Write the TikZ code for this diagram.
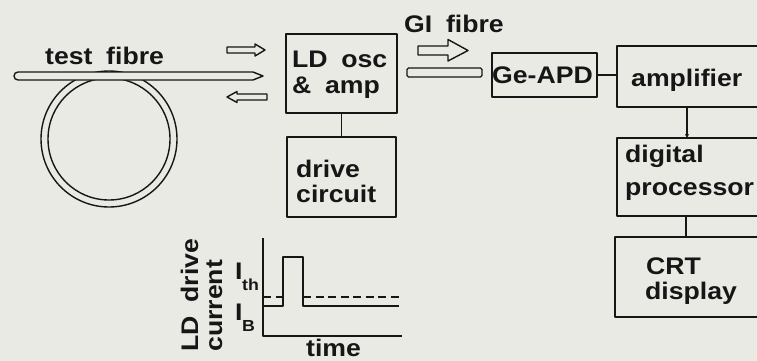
\documentclass[tikz,border=0pt]{standalone}
\usepackage{fontspec}
\newfontfamily\diagfont{Liberation Sans}[FakeStretch=1.11,WordSpace=1.85]
\usetikzlibrary{arrows.meta}
\definecolor{paper}{RGB}{234,234,229}
\definecolor{ink}{RGB}{22,22,22}
\newcommand\dgfont{\diagfont\bfseries\fontsize{24}{28}\selectfont}
\newcommand\dgsub{\diagfont\bfseries\fontsize{16}{16}\selectfont}
\begin{document}
\begin{tikzpicture}[x=1pt,y=-1pt,line join=round,
  box/.style={draw=ink,line width=1.8pt,inner sep=0pt,outer sep=0pt},
  lbl/.style={font=\dgfont,text=ink,inner sep=0pt,anchor=base west},
  sublbl/.style={font=\dgsub,text=ink,inner sep=0pt,anchor=base west},
  fibre/.style={draw=ink,line width=1.4pt,fill=paper},
  hollow/.style={draw=ink,line width=1.4pt,fill=paper},
  wire/.style={draw=ink,line width=1.6pt}]
\fill[paper] (0,0) rectangle (757,361);
\useasboundingbox (0,0) rectangle (757,361);
\begin{scope}
\clip (0,0) rectangle (757,361);
% fibre loop
\draw[ink,line width=1.4pt] (109,139) circle[radius=68pt];
\draw[ink,line width=1.4pt] (109,139) circle[radius=61pt];
\draw[fibre] (263,76) -- (253,72) [rounded corners=4pt] -- (14,72) -- (14,80) [sharp corners] -- (253,80) -- cycle;
% hollow arrows
\draw[hollow] (227,47) -- (255,47) -- (255,44) -- (265,50) -- (255,56) -- (255,53) -- (227,53) -- cycle;
\draw[hollow] (267,94) -- (237,94) -- (237,91.5) -- (227,97) -- (237,102.5) -- (237,100) -- (267,100) -- cycle;
\draw[hollow] (418,46) -- (448,46) -- (448,39.5) -- (468,50.5) -- (448,61) -- (448,55) -- (418,55) -- cycle;
% GI fibre
\draw[fibre,rounded corners=1.5pt] (407,68) rectangle (482,77);
% boxes
\node[box,minimum width=111pt,minimum height=79pt] (ld) at (341.5,73.5) {};
\node[box,minimum width=109pt,minimum height=80pt] (drv) at (341.5,177) {};
\node[box,minimum width=105pt,minimum height=44pt] (apd) at (544.5,75) {};
\node[box,minimum width=163pt,minimum height=61pt] (amp) at (698.5,76.5) {};
\node[box,minimum width=163pt,minimum height=78pt] (dp) at (698.5,177) {};
\node[box,minimum width=165pt,minimum height=80pt] (crt) at (697.5,277) {};
% connectors
\coordinate (vA) at (687,0);
\coordinate (vB) at (686,0);
\draw[wire] (ld.south) -- (drv.north);
\draw[wire] (apd.east) -- (apd.east -| amp.west);
\draw[wire,-{Stealth[length=4pt,width=4pt]}] (amp.south -| vA) -- (dp.north -| vA);
\draw[wire] (dp.south -| vB) -- (crt.north -| vB);
% labels
\node[lbl] (tTest) at (45,65) {test fibre};
\node[lbl] (tLD1) at (292,67) {LD osc};
\node[lbl] (tLD2) at (292,93) {\& amp};
\node[lbl] (tDr1) at (296,177) {drive};
\node[lbl] (tDr2) at (296,202) {circuit};
\node[lbl] (tGI) at (404,33) {GI fibre};
\node[lbl] (tAPD) at (492,83) {Ge-APD};
\node[lbl] (tAmp) at (631,86) {amplifier};
\node[lbl] (tDP1) at (625,162) {digital};
\node[lbl] (tDP2) at (625,195) {processor};
\node[lbl] (tCRT1) at (646,274) {CRT};
\node[lbl] (tCRT2) at (645,299) {display};
% graph
\coordinate (o) at (263,336);
\draw[wire,line width=1.8pt] (263,238) -- (o) -- (402,336);
\draw[wire,line width=1.8pt] (263,306) -- (283,306) -- (283,257) -- (303,257) -- (303,306) -- (399,306);
\draw[wire,line width=1.6pt,dash pattern=on 8pt off 4.5pt] (263,297) -- (283,297);
\draw[wire,line width=1.6pt,dash pattern=on 8pt off 4.5pt] (303,297) -- (399,297);
\node[lbl] (tI1) at (235,279) {I};
\node[sublbl] (tth) at (242,290) {th};
\node[lbl] (tI2) at (235,320) {I};
\node[sublbl] (tB) at (242,331) {B};
\node[lbl] (tTime) at (306,356) {time};
\node[lbl,rotate=90] (tYa) at (198,352) {LD drive};
\node[lbl,rotate=90] (tYb) at (222,352) {current};
\end{scope}
\end{tikzpicture}
\end{document}
